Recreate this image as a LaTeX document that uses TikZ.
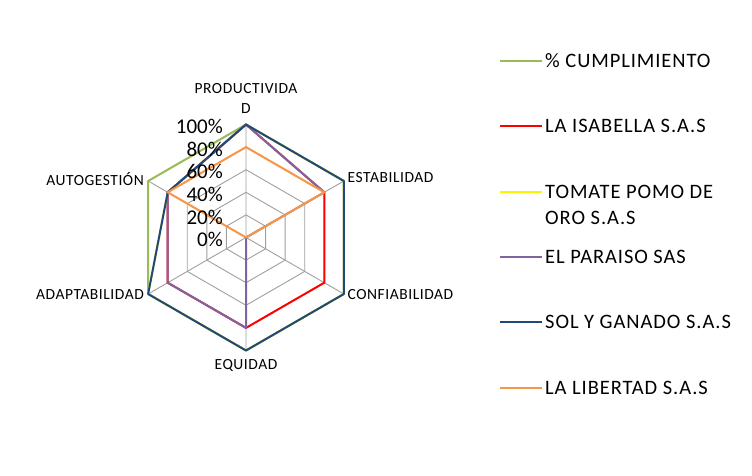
\documentclass[tikz,border=0pt]{standalone}
\usepackage{fontspec}
\setmainfont{Carlito}
\newfontfamily\catfont[LetterSpace=3.5]{Carlito}
\newfontfamily\legfont[LetterSpace=4.5]{Carlito}
\usetikzlibrary{calc}
\definecolor{cumplgreen}{HTML}{9BBB59}
\definecolor{paraisopurple}{HTML}{8064A2}
\definecolor{solnavy}{HTML}{1F497D}
\definecolor{libertadorange}{HTML}{F79646}
\definecolor{gridgray}{HTML}{A0A0A0}
\def\ring(#1){\draw[gridgray, line width=0.9pt] (90:#1) -- (30:#1) -- (-30:#1) -- (-90:#1) -- (210:#1) -- (150:#1) -- cycle;}
\def\serie[#1](#2,#3,#4,#5,#6,#7){\draw[#1, line width=2pt, line join=round] (90:1.13*#2) -- (30:1.13*#3) -- (-30:1.13*#4) -- (-90:1.13*#5) -- (210:1.13*#6) -- (150:1.13*#7) -- cycle;}
\tikzset{
	catlabel/.style={inner sep=0pt, font=\catfont\fontsize{15.5}{20}\selectfont},
	ticklabel/.style={inner sep=0pt, anchor=east, font=\fontsize{21}{24}\selectfont},
	legtext/.style={inner sep=0pt, anchor=west, align=left, font=\legfont\fontsize{20.5}{26}\selectfont}
}

\begin{document}
\begin{tikzpicture}[x=1pt, y=1pt]
			%%%%% START %%%%%
			
			\useasboundingbox[fill=white] (0, 0) rectangle (752, 475);
			
			\begin{scope}[shift={(246, 237.5)}]
				\ring(22.6)
				\ring(45.2)
				\ring(67.8)
				\ring(90.4)
				\ring(113)
				\draw[gridgray, line width=0.9pt] (90:113) -- (0, 0) -- (30:113);
				\draw[gridgray, line width=0.9pt] (-30:113) -- (0, 0) -- (-90:113);
				\draw[gridgray, line width=0.9pt] (210:113) -- (0, 0) -- (150:113);
				
				\serie[cumplgreen](100,100,100,100,100,100)
				\serie[red](100,80,80,80,80,80)
				\serie[yellow](100,100,100,100,100,80)
				\serie[paraisopurple](100,80,0,80,80,80)
				\serie[solnavy](100,100,100,100,100,80)
				\serie[libertadorange](80,80,0,0,0,80)
			\end{scope}
			
			\node[ticklabel] (t100) at (223, 348.5) {100\%};
			\node[ticklabel] (t80) at (223, 326) {80\%};
			\node[ticklabel] (t60) at (223, 303.5) {60\%};
			\node[ticklabel] (t40) at (223, 281) {40\%};
			\node[ticklabel] (t20) at (223, 258) {20\%};
			\node[ticklabel] (t0) at (223, 236) {0\%};
			
			\node[catlabel, align=center] (prod) at (246, 377) {PRODUCTIVIDA\\D};
			\node[catlabel, anchor=west] (estab) at (347.5, 297) {ESTABILIDAD};
			\node[catlabel, anchor=west] (confia) at (347.5, 180) {CONFIABILIDAD};
			\node[catlabel] (equid) at (246, 109.5) {EQUIDAD};
			\node[catlabel, anchor=east] (adapt) at (144, 180) {ADAPTABILIDAD};
			\node[catlabel, anchor=east] (autog) at (144, 296) {AUTOGESTIÓN};
			
			\draw[cumplgreen, line width=2pt] (500, 414) -- (542, 414);
			\node[legtext] (lcumpl) at (545, 414) {\% CUMPLIMIENTO};
			\draw[red, line width=2pt] (500, 349) -- (542, 349);
			\node[legtext] (lisab) at (545, 349) {LA ISABELLA S.A.S};
			\draw[yellow, line width=2pt] (500, 283) -- (542, 283);
			\node[legtext] (ltomate) at (545, 270) {TOMATE POMO DE\\ORO S.A.S};
			\draw[paraisopurple, line width=2pt] (500, 218) -- (542, 218);
			\node[legtext] (lparaiso) at (545, 218) {EL PARAISO SAS};
			\draw[solnavy, line width=2pt] (500, 153) -- (542, 153);
			\node[legtext] (lsol) at (545, 153) {SOL Y GANADO S.A.S};
			\draw[libertadorange, line width=2pt] (500, 87) -- (542, 87);
			\node[legtext] (llibert) at (545, 87) {LA LIBERTAD S.A.S};
			
			%%%%% END %%%%%
\end{tikzpicture}
\end{document}
